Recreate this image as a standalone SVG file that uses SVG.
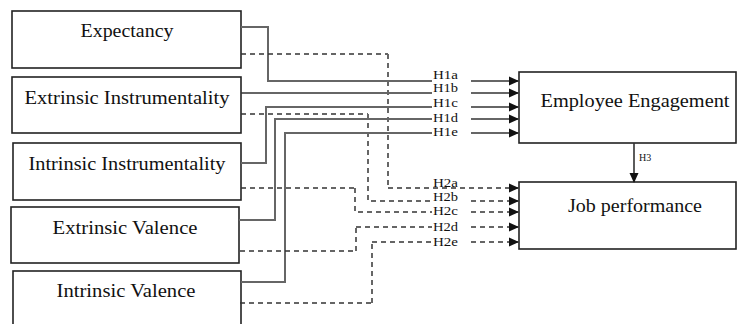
<svg xmlns="http://www.w3.org/2000/svg" width="738" height="324" viewBox="0 0 738 324">
<style>
.box{fill:#fff;stroke:#222;stroke-width:1.6}
.t{font-family:"Liberation Serif","Times New Roman",serif;font-size:18px;fill:#111;text-anchor:middle}
.l{font-family:"Liberation Serif","Times New Roman",serif;font-size:12px;fill:#111}
.s{fill:none;stroke:#333;stroke-width:1.6}
.g{fill:none;stroke:#666;stroke-width:2}
.d{fill:none;stroke:#333;stroke-width:1.6;stroke-dasharray:5 4}
.dg{fill:none;stroke:#666;stroke-width:2;stroke-dasharray:5 4}
</style>
<defs>
<marker id="ah" markerWidth="10" markerHeight="10" refX="9" refY="5" orient="auto" markerUnits="userSpaceOnUse">
<path d="M0,0.5 L10,5 L0,9.5 z" fill="#111"/>
</marker>
</defs>
<rect width="738" height="324" fill="#fff"/>
<g id="expectancy"><rect class="box" x="12" y="11" width="229" height="57"/><text class="t" x="127" y="37" textLength="93" lengthAdjust="spacingAndGlyphs">Expectancy</text></g>
<g id="extrinsic-instrumentality"><rect class="box" x="12" y="77" width="229" height="56"/><text class="t" x="127" y="104" textLength="205" lengthAdjust="spacingAndGlyphs">Extrinsic Instrumentality</text></g>
<g id="intrinsic-instrumentality"><rect class="box" x="13" y="143" width="228" height="57"/><text class="t" x="127" y="170" textLength="197" lengthAdjust="spacingAndGlyphs">Intrinsic Instrumentality</text></g>
<g id="extrinsic-valence"><rect class="box" x="11" y="207" width="228" height="56"/><text class="t" x="125" y="234" textLength="145" lengthAdjust="spacingAndGlyphs">Extrinsic Valence</text></g>
<g id="intrinsic-valence"><rect class="box" x="13" y="271" width="228" height="60"/><text class="t" x="126" y="297" textLength="139" lengthAdjust="spacingAndGlyphs">Intrinsic Valence</text></g>
<g id="employee-engagement"><rect class="box" x="519" y="72" width="217" height="71"/><text class="t" x="635" y="107" textLength="189" lengthAdjust="spacingAndGlyphs">Employee Engagement</text></g>
<g id="job-performance"><rect class="box" x="519" y="182" width="217" height="67"/><text class="t" x="635" y="212" textLength="134" lengthAdjust="spacingAndGlyphs">Job performance</text></g>
<g id="connectors">
<path class="g" d="M241,27 H268 V81 H432"/>
<path class="s" d="M471,81 H518" marker-end="url(#ah)"/>
<path class="s" d="M241,93 H432"/>
<path class="s" d="M471,93 H518" marker-end="url(#ah)"/>
<path class="g" d="M241,163 H266 V107 H432"/>
<path class="s" d="M471,107 H518" marker-end="url(#ah)"/>
<path class="g" d="M239,220 H275 V119 H432"/>
<path class="s" d="M471,119 H518" marker-end="url(#ah)"/>
<path class="g" d="M241,282 H285 V133 H432"/>
<path class="s" d="M471,133 H518" marker-end="url(#ah)"/>
<path class="d" d="M241,54 H388"/>
<path class="dg" d="M388,54 V188"/>
<path class="d" d="M388,188 H518" marker-end="url(#ah)"/>
<path class="d" d="M241,114 H368"/>
<path class="dg" d="M368,114 V201 H432"/>
<path class="dg" d="M471,201 H518" marker-end="url(#ah)"/>
<path class="d" d="M241,188 H355"/>
<path class="dg" d="M355,188 V212 H432"/>
<path class="dg" d="M471,212 H518" marker-end="url(#ah)"/>
<path class="d" d="M240,251 H356"/>
<path class="dg" d="M356,251 V227"/>
<path class="d" d="M356,227 H432"/>
<path class="d" d="M471,227 H518" marker-end="url(#ah)"/>
<path class="d" d="M240,303 H372"/>
<path class="dg" d="M372,303 V242"/>
<path class="d" d="M372,242 H432"/>
<path class="d" d="M471,242 H518" marker-end="url(#ah)"/>
<path class="s" d="M634,143 V182" marker-end="url(#ah)"/>
</g>
<g id="labels">
<text class="l" x="433" y="79" textLength="25" lengthAdjust="spacingAndGlyphs">H1a</text>
<text class="l" x="433" y="92" textLength="25" lengthAdjust="spacingAndGlyphs">H1b</text>
<text class="l" x="433" y="107" textLength="25" lengthAdjust="spacingAndGlyphs">H1c</text>
<text class="l" x="433" y="122" textLength="25" lengthAdjust="spacingAndGlyphs">H1d</text>
<text class="l" x="433" y="136" textLength="25" lengthAdjust="spacingAndGlyphs">H1e</text>
<text class="l" x="433" y="187" textLength="25" lengthAdjust="spacingAndGlyphs">H2a</text>
<text class="l" x="433" y="201" textLength="25" lengthAdjust="spacingAndGlyphs">H2b</text>
<text class="l" x="433" y="215" textLength="25" lengthAdjust="spacingAndGlyphs">H2c</text>
<text class="l" x="433" y="231" textLength="25" lengthAdjust="spacingAndGlyphs">H2d</text>
<text class="l" x="433" y="246" textLength="25" lengthAdjust="spacingAndGlyphs">H2e</text>
<text class="l" x="639" y="161" style="font-size:10px">H3</text>
</g>
</svg>
